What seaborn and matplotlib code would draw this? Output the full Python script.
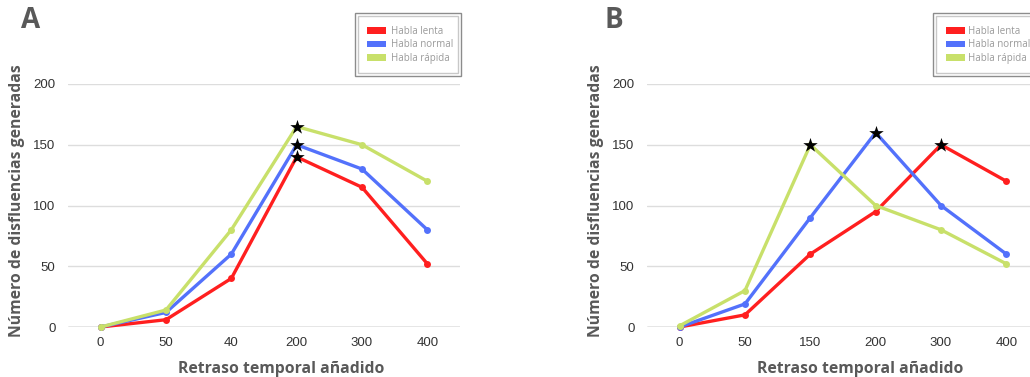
import numpy as np
import pandas as pd
import matplotlib.pyplot as plt
import seaborn as sns
from matplotlib.patches import Patch, Rectangle

# datos
series = ['Habla lenta', 'Habla normal', 'Habla rápida']
colores = ['#ff1f1f', '#5371fb', '#c8e06a']

cats_a = ['0', '50', '40', '200', '300', '400']
lenta_a = [0, 6, 40, 140, 115, 52]
normal_a = [0, 12, 60, 150, 130, 80]
rapida_a = [0, 14, 80, 165, 150, 120]
picos_a = [3, 3, 3]   # indice del maximo de cada serie

cats_b = ['0', '50', '150', '200', '300', '400']
lenta_b = [0, 10, 60, 95, 150, 120]
normal_b = [0, 19, 90, 160, 100, 60]
rapida_b = [1, 30, 150, 100, 80, 52]
picos_b = [4, 3, 2]

sns.set_style('white')
plt.rcParams['font.family'] = ['Liberation Sans', 'DejaVu Sans']

GRIS = '#595959'


def panel(ax, cats, valores, picos):
    filas = []
    for nombre, vals in zip(series, valores):
        for i, v in enumerate(vals):
            filas.append({'pos': i, 'valor': v, 'serie': nombre})
    df = pd.DataFrame(filas)
    sns.lineplot(data=df, x='pos', y='valor', hue='serie', palette=colores,
                 marker='o', markersize=5, markeredgewidth=0, linewidth=2.4,
                 ax=ax, legend=False, clip_on=False, zorder=3)
    # estrellas en los maximos
    px = picos
    py = [valores[k][p] for k, p in enumerate(picos)]
    sns.scatterplot(x=px, y=py, marker='*', s=120, color='black',
                    linewidth=0, ax=ax, zorder=5, clip_on=False)
    ax.set_xlim(-0.5, len(cats) - 0.5)
    ax.set_ylim(0, 200)
    ax.set_xticks(range(len(cats)))
    ax.set_xticklabels(cats)
    ax.set_yticks([0, 50, 100, 150, 200])
    ax.yaxis.grid(True, color='#dddddd', lw=1)
    ax.axhline(0, color='#a0a0a0', lw=1, zorder=2)
    for s in ax.spines.values():
        s.set_visible(False)
    ax.tick_params(length=0, labelsize=9.5, labelcolor='#333333')
    ax.tick_params(axis='y', pad=9)
    ax.tick_params(axis='x', pad=7)
    ax.set_xlabel('Retraso temporal añadido', fontsize=11.3, fontweight='bold',
                  color=GRIS, family=['Open Sans', 'DejaVu Sans'])
    ax.set_ylabel('Número de disfluencias generadas', fontsize=11.3,
                  fontweight='bold', color=GRIS,
                  family=['Open Sans', 'DejaVu Sans'])
    ax.xaxis.set_label_coords(0.543, -0.14)
    ax.yaxis.set_label_coords(-0.11, 0.52)


W, H = 1030, 377
fig = plt.figure(figsize=(W / 100, H / 100), dpi=100)

ax_a = fig.add_axes([68 / W, 50 / H, 392 / W, 243 / H])
ax_b = fig.add_axes([647 / W, 50 / H, 392 / W, 243 / H])

panel(ax_a, cats_a, [lenta_a, normal_a, rapida_a], picos_a)
panel(ax_b, cats_b, [lenta_b, normal_b, rapida_b], picos_b)

fig.text(31 / W, 1 - 20 / H, 'A', ha='center', va='center', fontsize=20,
         fontweight='bold', color=GRIS, family=['Open Sans', 'DejaVu Sans'])
fig.text(614 / W, 1 - 20 / H, 'B', ha='center', va='center', fontsize=20,
         fontweight='bold', color=GRIS, family=['Open Sans', 'DejaVu Sans'])

# leyendas con doble marco
handles = [Patch(facecolor=c, edgecolor='none', label=n) for c, n in zip(colores, series)]
for x0, x1, xp, pad in [(355, 461, 367, 0.45), (933, 1045, 946, 0.25)]:
    fig.patches.append(Rectangle((x0 / W, 1 - 76 / H), (x1 - x0) / W, 63 / H,
                                 transform=fig.transFigure, fill=False,
                                 edgecolor='#8c8c8c', lw=1))
    fig.patches.append(Rectangle(((x0 + 3) / W, 1 - 73 / H), (x1 - x0 - 6) / W, 57 / H,
                                 transform=fig.transFigure, fill=False,
                                 edgecolor='#c8c8c8', lw=1))
    leg = fig.legend(handles=handles, loc='upper left',
                     bbox_to_anchor=(xp / W, 1 - 26 / H), frameon=False,
                     borderpad=0, borderaxespad=0, handlelength=2.0,
                     handleheight=0.6, handletextpad=pad, labelspacing=0.25,
                     prop={'family': ['Open Sans', 'DejaVu Sans'], 'size': 7})
    for t in leg.get_texts():
        t.set_color('#9a9a9a')

fig.savefig('out.png', dpi=100)
